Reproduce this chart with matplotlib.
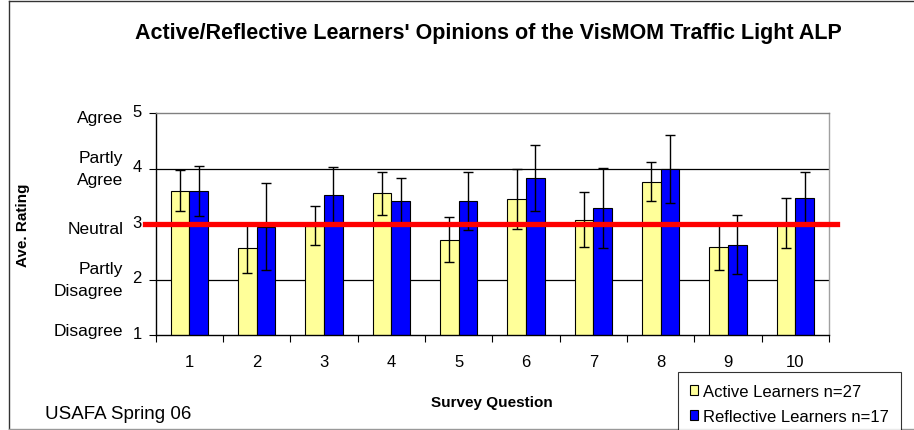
import numpy as np
import matplotlib
matplotlib.use("Agg")
import matplotlib.pyplot as plt
from matplotlib.lines import Line2D
from matplotlib.transforms import blended_transform_factory, offset_copy

plt.rcParams["font.family"] = ["Liberation Sans", "DejaVu Sans"]

questions = ["1", "2", "3", "4", "5", "6", "7", "8", "9", "10"]
active = [3.60, 2.56, 2.97, 3.55, 2.72, 3.45, 3.08, 3.76, 2.59, 3.01]
active_err = [0.37, 0.44, 0.35, 0.39, 0.41, 0.54, 0.49, 0.35, 0.42, 0.45]
reflective = [3.60, 2.95, 3.52, 3.42, 3.42, 3.83, 3.29, 3.99, 2.63, 3.47]
reflective_err = [0.45, 0.78, 0.50, 0.41, 0.52, 0.60, 0.72, 0.61, 0.53, 0.47]
rating_ticks = [1, 2, 3, 4, 5]
rating_names = ["Disagree", "Partly\nDisagree", "Neutral", "Partly\nAgree", "Agree"]
neutral = 3

W, H = 914, 431
fig = plt.figure(figsize=(W / 100, H / 100), dpi=100)
ax = fig.add_axes([155.7 / W, 1 - 336 / H, (829 - 155.7) / W, (336 - 114) / H])

x = np.arange(1, len(questions) + 1)
bw = 0.278
b1 = ax.bar(x - bw / 2, active, bw, color="#FFFF99", edgecolor="black", linewidth=0.8, zorder=2,
            label="Active Learners n=27")
b2 = ax.bar(x + bw / 2, reflective, bw, color="#0000FF", edgecolor="black", linewidth=0.8, zorder=2,
            label="Reflective Learners n=17")
ax.errorbar(x - bw / 2, active, yerr=active_err, fmt="none", ecolor="black", elinewidth=1,
            capsize=3.6, capthick=1, zorder=3)
ax.errorbar(x + bw / 2, reflective, yerr=reflective_err, fmt="none", ecolor="black", elinewidth=1,
            capsize=3.6, capthick=1, zorder=3)

# neutral reference line, a little wider than the plot area
trans = blended_transform_factory(ax.transAxes, ax.transData)
ax.add_line(Line2D([-0.016, 1.012], [neutral, neutral], transform=trans, color="#FF0000",
                   linewidth=3.8, clip_on=False, zorder=4))

ax.set_xlim(0.5, len(questions) + 0.5)
ax.set_ylim(1, 5)
for v in [2, 4]:
    ax.axhline(v, color="black", linewidth=0.9, zorder=1)

ax.set_xticks(np.arange(0.5, len(questions) + 1, 1))
ax.set_xticklabels([])
ax.set_xticks(x, minor=True)
ax.set_xticklabels(questions, minor=True, fontsize=12)
ax.tick_params(axis="x", which="major", direction="out", length=5, width=0.8)
ax.tick_params(axis="x", which="minor", length=0, pad=14)
ax.set_yticks(rating_ticks)
ax.set_yticklabels([str(t) for t in rating_ticks], fontsize=12)
ax.tick_params(axis="y", direction="out", length=5, width=0.8, pad=5)
for lbl in ax.get_yticklabels():
    lbl.set_transform(offset_copy(lbl.get_transform(), fig=fig, x=0, y=3, units="dots"))

# word labels sit left of the numbers, each nudged a few pixels like the original
name_shift = [-4, 0, 5, 0, 4]
for t, name, dy in zip(rating_ticks, rating_names, name_shift):
    ax.text(-0.048, t, name, ha="right", va="center", fontsize=12.5, linespacing=1.55,
            transform=offset_copy(trans, fig=fig, x=0, y=-dy, units="dots"))

ax.spines["left"].set_color("black")
ax.spines["bottom"].set_color("black")
ax.spines["top"].set_color("#808080")
ax.spines["right"].set_color("#A0A0A0")
for s in ax.spines.values():
    s.set_linewidth(1.0)

fig.text(488 / W, 1 - 33 / H, "Active/Reflective Learners' Opinions of the VisMOM Traffic Light ALP",
         ha="center", va="center", fontsize=15.5, fontweight="bold")
fig.text(492 / W, 1 - 403 / H, "Survey Question", ha="center", va="center",
         fontsize=11, fontweight="bold")
fig.text(23 / W, 1 - 225 / H, "Ave. Rating", ha="center", va="center", rotation=90,
         fontsize=11, fontweight="bold")
fig.text(45 / W, 1 - 415 / H, "USAFA Spring 06", ha="left", va="center", fontsize=13.5)

leg = fig.legend(handles=[b1, b2], loc="upper left", bbox_to_anchor=(678 / W, 1 - 373 / H),
                 bbox_transform=fig.transFigure, fontsize=12, frameon=True, fancybox=False,
                 edgecolor="black", borderpad=0.7, labelspacing=0.6, handlelength=0.5,
                 handleheight=0.5, handletextpad=0.3, borderaxespad=0)
leg.get_frame().set_linewidth(0.8)

# chart outer frame
fig.add_artist(Line2D([9 / W, 9 / W], [1 / H, 1 - 2 / H], transform=fig.transFigure,
                      color="#333333", linewidth=1))
fig.add_artist(Line2D([9 / W, 1], [1 - 2 / H, 1 - 2 / H], transform=fig.transFigure,
                      color="#333333", linewidth=1))
fig.add_artist(Line2D([9 / W, 1], [1 / H, 1 / H], transform=fig.transFigure,
                      color="#999999", linewidth=1))

fig.savefig("out.png", dpi=100)
